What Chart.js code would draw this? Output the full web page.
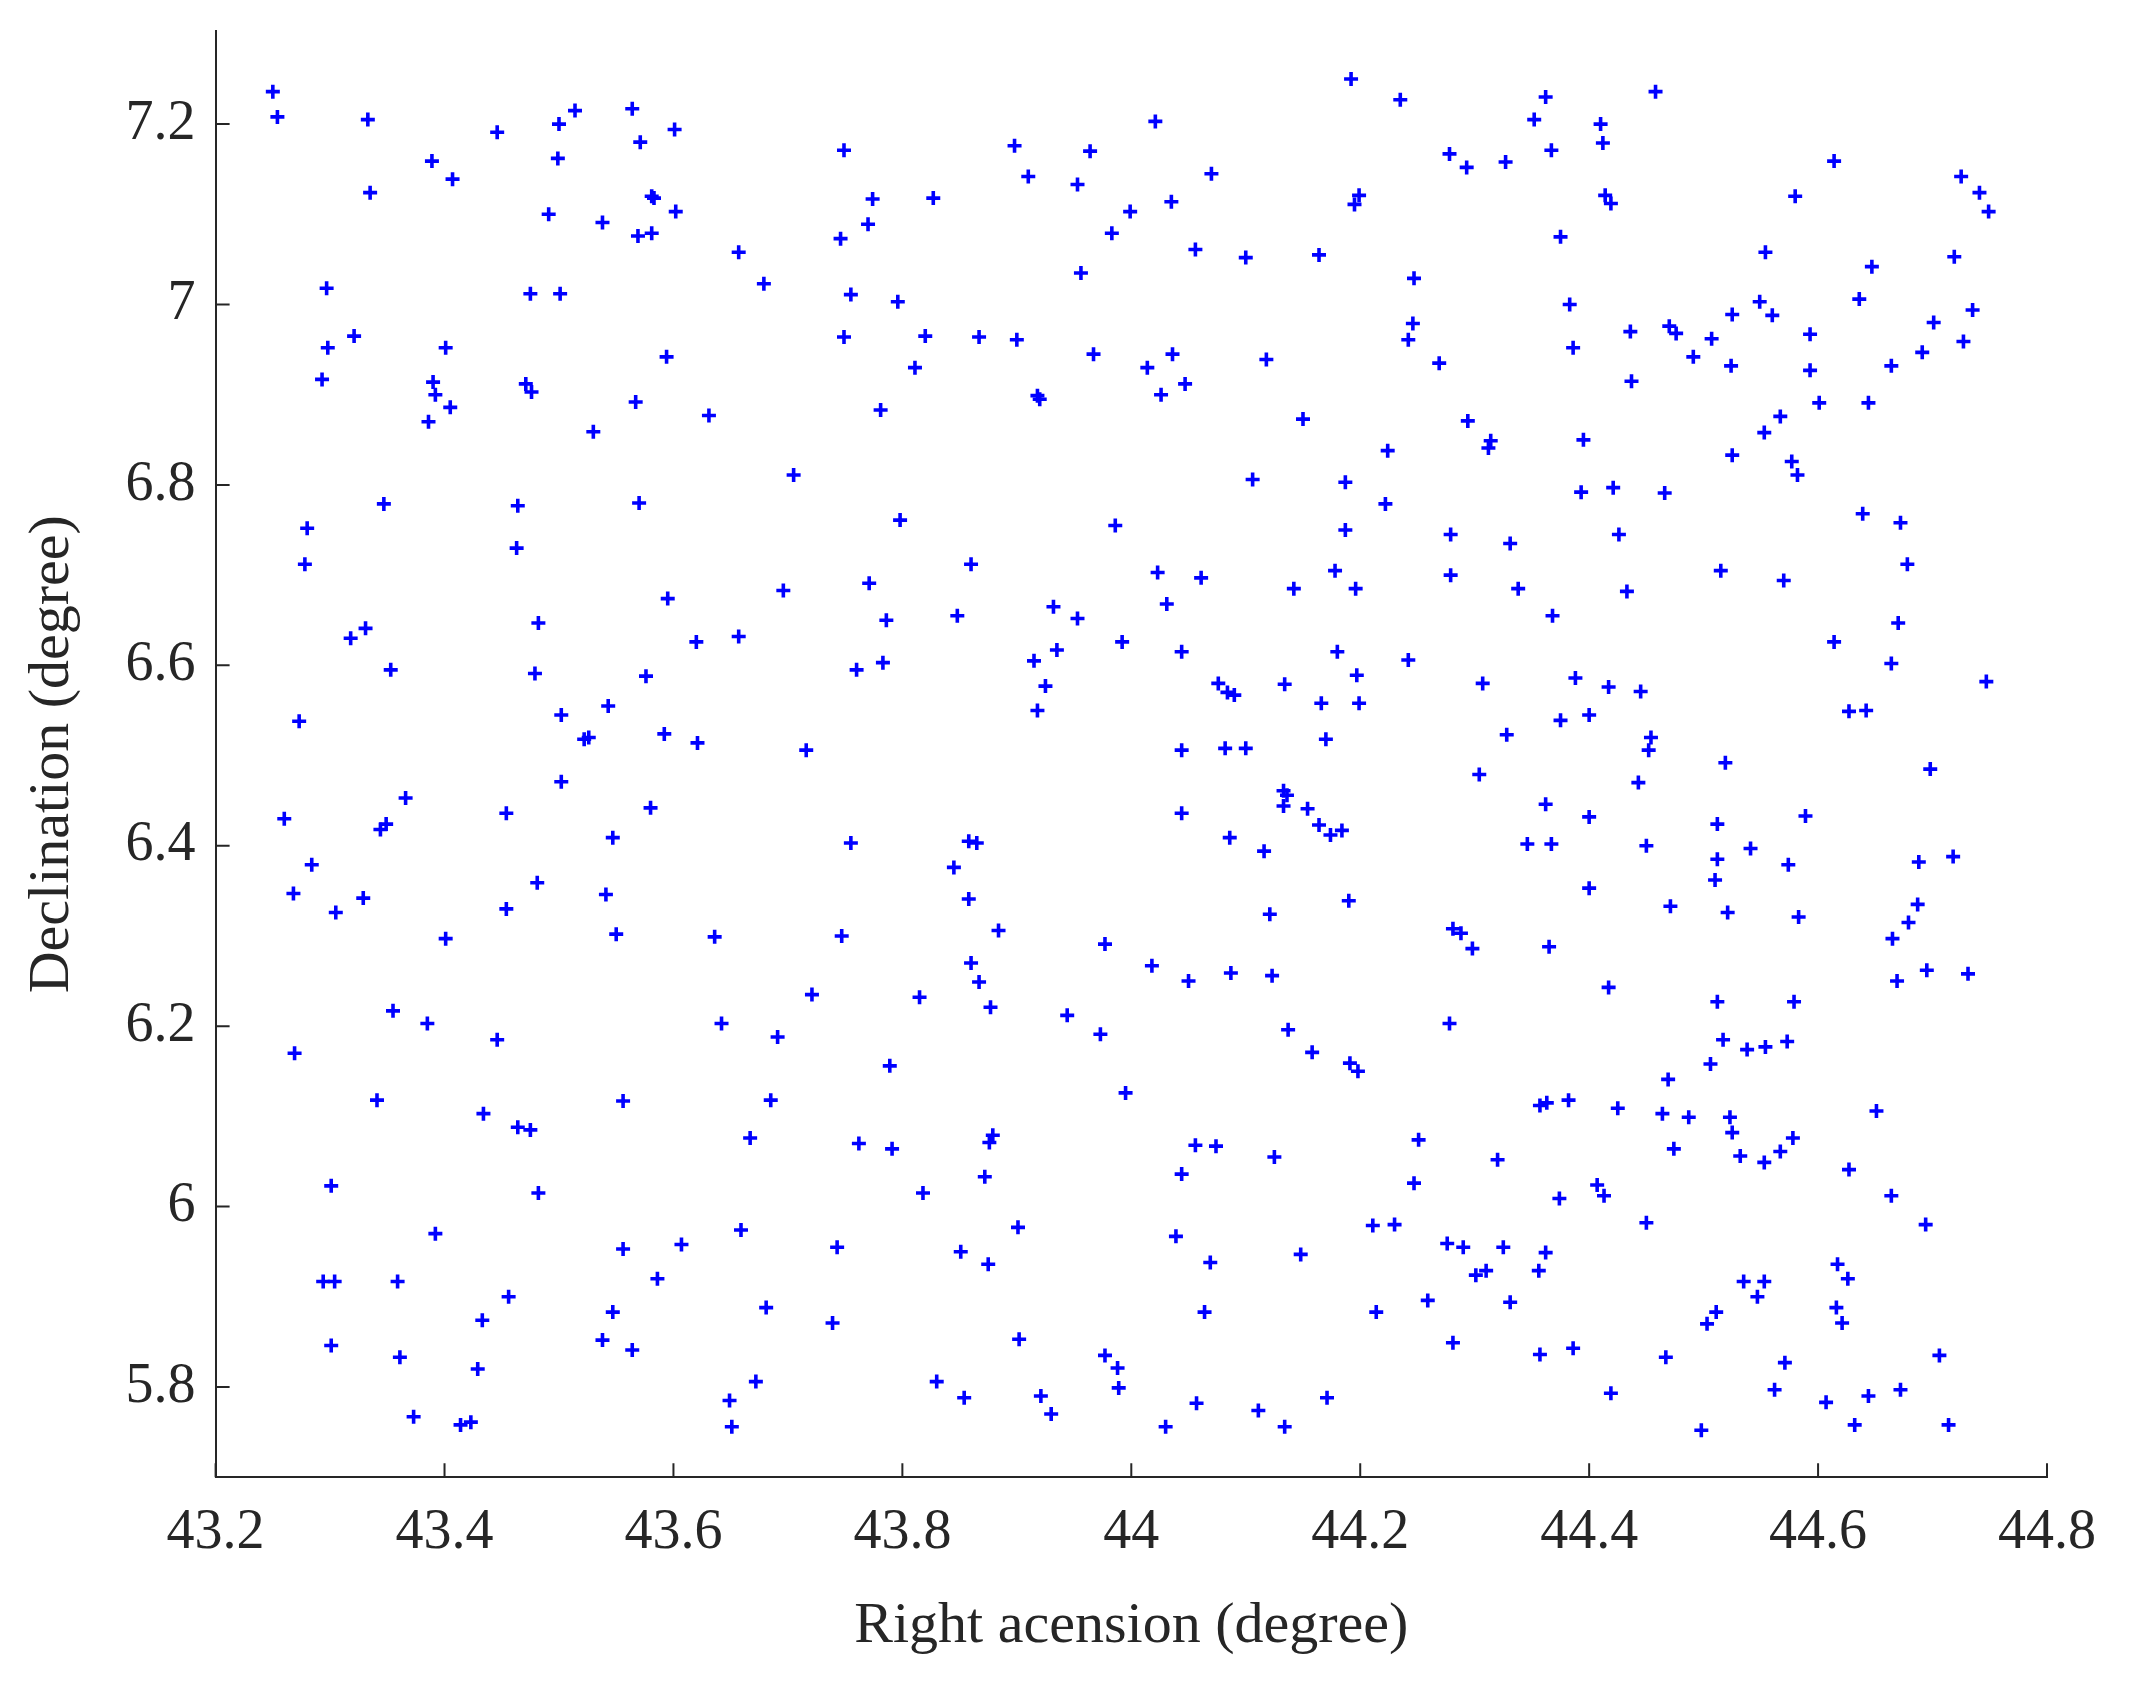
<!DOCTYPE html>
<html>
<head>
<meta charset="utf-8">
<script src="https://cdn.jsdelivr.net/npm/chart.js@4"></script>
<style>
html, body { margin: 0; padding: 0; background: #fff; }
#wrap { width: 2144px; height: 1702px; }
</style>
</head>
<body>
<div id="wrap"><canvas id="chartCanvas"></canvas></div>
<script>
// tick labels
const xTicks = [43.2, 43.4, 43.6, 43.8, 44, 44.2, 44.4, 44.6, 44.8];
const yTicks = [5.8, 6, 6.2, 6.4, 6.6, 6.8, 7, 7.2];

// star positions (right ascension, declination)
const ra = [
43.250,43.254,43.333,43.335,43.260,43.268,43.273,43.278,43.280,43.284,43.269,43.293,43.298,43.297,43.321,43.318,43.329,43.331,43.341,43.347,
43.344,43.349,43.353,43.355,43.366,43.294,43.304,43.301,43.301,43.305,43.359,43.361,43.373,43.385,43.392,43.390,43.386,43.389,43.392,43.401,
43.405,43.407,43.401,43.414,43.423,43.429,43.433,43.434,43.446,43.446,43.454,43.454,43.456,43.463,43.464,43.464,43.471,43.475,43.475,43.476,
43.479,43.481,43.482,43.482,43.491,43.499,43.501,43.500,43.502,43.502,43.514,43.522,43.526,43.530,43.538,43.541,43.543,43.538,43.547,43.547,
43.550,43.556,43.556,43.564,43.564,43.567,43.569,43.570,43.571,43.581,43.581,43.576,43.580,43.583,43.592,43.594,43.595,43.586,43.601,43.602,
43.607,43.620,43.621,43.631,43.636,43.642,43.649,43.651,43.657,43.659,43.657,43.667,43.672,43.679,43.681,43.685,43.691,43.696,43.705,43.716,
43.721,43.739,43.743,43.747,43.746,43.749,43.749,43.755,43.755,43.760,43.762,43.770,43.771,43.774,43.781,43.783,43.786,43.789,43.791,43.796,
43.798,43.811,43.815,43.818,43.820,43.827,43.830,43.845,43.848,43.851,43.854,43.858,43.858,43.860,43.865,43.860,43.867,43.867,43.872,43.876,
43.875,43.877,43.879,43.884,43.898,43.900,43.901,43.902,43.910,43.915,43.918,43.921,43.930,43.918,43.920,43.925,43.932,43.935,43.944,43.953,
43.953,43.956,43.964,43.967,43.977,43.973,43.977,43.983,43.986,43.988,43.989,43.992,43.995,43.999,44.014,44.018,44.021,44.023,44.026,44.030,
44.036,44.031,44.035,44.039,44.044,44.044,44.044,44.047,44.044,44.050,44.056,44.057,44.056,44.061,44.064,44.069,44.070,44.074,44.076,44.084,
44.086,44.087,44.082,44.090,44.100,44.100,44.106,44.111,44.116,44.118,44.121,44.123,44.125,44.133,44.134,44.133,44.134,44.136,44.137,44.142,
44.148,44.150,44.154,44.158,44.164,44.164,44.166,44.170,44.171,44.174,44.178,44.180,44.184,44.192,44.187,44.187,44.190,44.191,44.195,44.196,
44.198,44.199,44.197,44.199,44.211,44.214,44.222,44.224,44.230,44.235,44.242,44.247,44.242,44.246,44.247,44.251,44.259,44.269,44.279,44.279,
44.278,44.281,44.276,44.278,44.281,44.288,44.290,44.293,44.294,44.298,44.301,44.304,44.307,44.312,44.314,44.310,44.320,44.325,44.327,44.328,
44.331,44.331,44.338,44.352,44.362,44.362,44.362,44.367,44.363,44.367,44.368,44.375,44.383,44.386,44.393,44.395,44.400,44.410,44.412,44.414,
44.419,44.421,44.426,44.433,44.443,44.450,44.452,44.450,44.458,44.464,44.467,44.474,44.470,44.476,44.491,44.498,44.506,44.512,44.515,44.519,
44.525,44.535,44.541,44.547,44.553,44.553,44.562,44.571,44.574,44.567,44.578,44.579,44.583,44.589,44.593,44.593,44.601,44.607,44.617,44.616,
44.621,44.626,44.627,44.632,44.644,44.664,44.672,44.651,44.665,44.679,44.669,44.688,44.687,44.694,44.695,44.706,44.698,44.714,44.718,44.731,
44.747,44.735,44.727,44.749,44.741,44.725,44.507,44.524,44.525,44.549,44.554,44.560,44.567,44.553,44.525,44.577,44.582,44.570,44.614,44.627,
44.642,44.639,44.644,44.647,44.636,44.664,44.672,44.678,44.670,44.664,44.701,44.691,44.719,44.580,44.614,44.466,44.437,44.436,44.471,44.454,
44.417,44.445,44.512,44.512,44.510,44.521,44.487,44.469,44.517,44.538,44.554,44.573,44.523,44.532,44.503,44.511,44.407,44.413,44.425,44.382,
44.357,44.374,44.356,44.357,44.386,44.419,44.417,44.365,44.400,44.400,44.375,44.388,44.346
];
const dec = [
7.236,7.208,7.205,7.124,6.430,6.347,6.538,6.712,6.752,6.379,6.170,6.917,6.952,7.018,6.965,6.630,6.342,6.641,6.118,6.779,
6.418,6.424,6.595,6.217,6.453,5.917,5.917,6.023,5.846,6.326,5.917,5.833,5.767,6.203,5.970,6.914,6.870,7.159,6.900,6.952,
6.886,7.139,6.297,5.758,5.761,5.820,5.874,6.103,6.185,7.191,6.436,6.330,5.900,6.730,6.777,6.088,6.912,7.012,6.085,6.903,
6.591,6.359,6.647,6.015,7.100,7.162,7.012,7.200,6.545,6.471,7.215,6.518,6.520,6.859,7.091,6.346,6.555,5.852,5.883,6.409,
6.302,6.117,5.953,5.841,7.217,6.892,7.076,6.780,7.180,7.120,7.079,6.588,6.442,7.118,6.524,6.942,6.674,5.920,7.194,7.103,
5.958,6.626,6.514,6.877,6.299,6.203,5.785,5.756,7.058,5.974,6.632,6.076,5.806,7.023,5.888,6.118,6.188,6.683,6.811,6.506,
6.235,5.871,5.955,6.300,7.073,7.171,6.964,7.011,6.403,6.595,6.070,7.089,6.691,7.117,6.883,6.603,6.650,6.156,6.064,7.003,
6.761,6.930,6.232,6.015,6.965,7.118,5.806,6.376,6.655,5.950,5.788,6.405,6.341,6.712,6.403,6.270,6.249,6.964,6.033,6.071,
5.936,6.221,6.079,6.306,7.176,6.961,5.977,5.853,7.142,6.605,6.550,5.790,5.770,6.899,6.895,6.577,6.665,6.617,6.212,6.652,
7.133,7.035,7.170,6.945,6.291,6.191,5.835,7.079,6.755,5.821,5.799,6.626,6.126,7.103,6.930,6.267,7.203,6.703,6.900,5.756,
6.945,6.668,7.114,5.967,6.036,6.615,6.436,6.912,6.506,6.250,7.061,5.782,6.068,6.697,5.883,5.938,7.145,6.067,6.580,6.570,
6.409,6.259,6.508,6.567,6.508,7.052,6.806,5.774,6.394,6.939,6.324,6.256,6.055,6.444,5.756,6.461,6.579,6.456,6.196,6.685,
5.947,6.873,6.441,6.171,7.055,6.423,6.558,6.518,5.788,6.412,6.705,6.615,6.417,7.250,6.803,6.750,6.339,6.159,7.111,6.685,
6.150,7.121,6.589,6.558,5.979,5.883,6.779,6.838,5.980,7.227,6.961,7.029,6.606,6.979,6.026,6.074,5.896,6.935,6.745,6.700,
6.203,5.849,5.959,7.167,6.308,6.303,5.955,7.152,6.871,6.286,5.924,6.479,6.580,6.841,6.849,5.929,6.052,5.955,7.158,6.523,
5.894,6.735,6.685,7.205,7.230,5.949,6.446,7.171,6.115,6.402,6.655,7.075,7.000,6.952,6.792,6.850,6.545,7.200,7.179,7.121,
7.112,6.797,6.745,6.682,6.470,6.400,6.506,5.982,7.236,6.103,5.833,6.064,6.976,6.968,6.942,5.752,6.158,6.227,6.705,6.492,
6.082,5.917,6.397,5.900,6.049,5.917,5.797,5.827,6.379,6.061,6.076,6.227,6.321,6.433,6.927,6.967,6.891,5.783,5.936,5.888,
5.871,5.920,6.041,5.758,5.790,6.012,5.797,6.106,6.297,6.315,6.250,6.382,6.335,5.980,6.262,5.835,6.485,5.758,6.388,6.258,
6.582,6.994,6.959,7.103,7.124,7.142,6.962,6.932,6.989,7.003,7.058,6.988,6.876,6.858,6.833,6.826,6.811,6.694,6.626,6.549,
6.550,6.768,6.891,7.042,7.006,6.932,6.758,6.712,6.647,6.602,6.980,6.947,7.053,7.120,7.159,6.791,6.915,6.970,6.333,6.520,
6.576,6.571,6.424,6.385,6.362,6.326,6.099,6.141,6.185,6.174,6.177,6.183,6.099,6.056,5.870,5.883,6.024,6.012,6.109,6.118,
6.112,6.009,5.929,5.836,5.843,5.793,6.243,6.288,6.353,6.432,6.539,6.586,6.402
];

const points = ra.map((x, i) => ({ x: x, y: dec[i] }));
const fontFamily = "'Liberation Serif', 'DejaVu Serif', serif";

// MATLAB-like ticks drawn inward from the axes
const inwardTicks = {
  id: "inwardTicks",
  afterDraw(chart) {
    const ctx = chart.ctx;
    const xs = chart.scales.x, ys = chart.scales.y;
    const area = chart.chartArea;
    ctx.save();
    ctx.strokeStyle = "#262626";
    ctx.lineWidth = 2;
    ctx.beginPath();
    xTicks.forEach(v => {
      const px = xs.getPixelForValue(v);
      ctx.moveTo(px, area.bottom);
      ctx.lineTo(px, area.bottom - 14);
    });
    yTicks.forEach(v => {
      const py = ys.getPixelForValue(v);
      ctx.moveTo(area.left, py);
      ctx.lineTo(area.left + 14, py);
    });
    ctx.stroke();
    ctx.restore();
  }
};

const fmt = v => String(Number(v.toFixed(1)));

new Chart(document.getElementById("chartCanvas"), {
  type: "scatter",
  data: {
    datasets: [{
      data: points,
      pointStyle: "cross",
      pointRadius: 7,
      pointBorderWidth: 3.6,
      borderColor: "#0000ff",
      backgroundColor: "#0000ff"
    }]
  },
  options: {
    responsive: true,
    maintainAspectRatio: false,
    animation: false,
    layout: { padding: { left: 14, right: 97, top: 26, bottom: 36 } },
    plugins: { legend: { display: false }, tooltip: { enabled: false } },
    scales: {
      x: {
        type: "linear",
        min: 43.2,
        max: 44.8,
        afterBuildTicks: s => { s.ticks = xTicks.map(v => ({ value: v })); },
        grid: { drawOnChartArea: false, drawTicks: false, color: "#262626" },
        border: { color: "#262626", width: 2 },
        ticks: { callback: fmt, color: "#262626", padding: 22, maxRotation: 0, font: { family: fontFamily, size: 56 } },
        title: { display: true, text: "Right acension (degree)", color: "#262626", padding: { top: 4 }, font: { family: fontFamily, size: 58 } }
      },
      y: {
        type: "linear",
        min: 5.7,
        max: 7.303,
        afterBuildTicks: s => { s.ticks = yTicks.map(v => ({ value: v })); },
        grid: { drawOnChartArea: false, drawTicks: false, color: "#262626" },
        border: { color: "#262626", width: 2 },
        ticks: { callback: fmt, color: "#262626", padding: 20, font: { family: fontFamily, size: 56, lineHeight: 0.4 } },
        title: { display: true, text: "Declination (degree)", color: "#262626", padding: { bottom: 18 }, font: { family: fontFamily, size: 58 } }
      }
    }
  },
  plugins: [inwardTicks]
});
</script>
</body>
</html>
